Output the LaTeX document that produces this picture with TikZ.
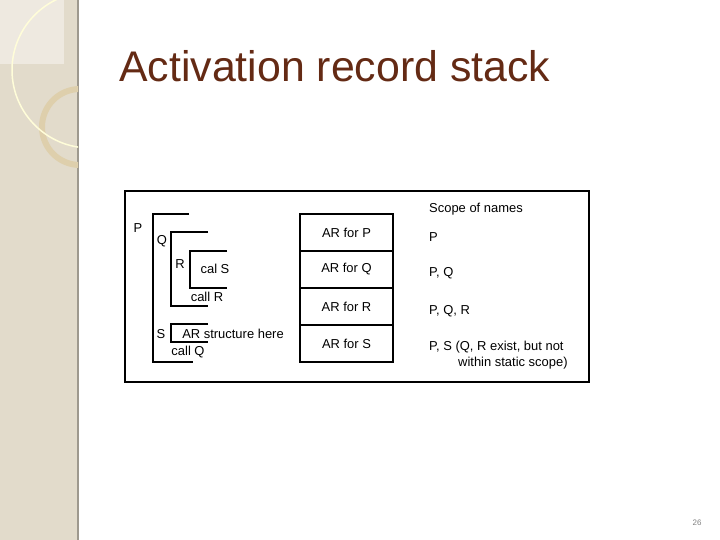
\documentclass[tikz,border=0pt]{standalone}
\usepackage{fontspec}
\setmainfont{Liberation Sans}
\definecolor{beige}{RGB}{226,219,203}
\definecolor{ring}{RGB}{222,207,172}
\definecolor{titlebrown}{RGB}{100,42,20}
\begin{document}
\begin{tikzpicture}[x=1bp,y=-1bp,
  lbl/.style={font=\fontsize{13}{15}\selectfont, inner sep=0pt},
  bracket/.style={line width=1.2pt}]
\useasboundingbox (0,0) rectangle (720,540);
% left band
\fill[beige] (0,0) rectangle (78,540);
\draw[color=beige!70!black, line width=1.5pt] (78,0) -- (78,540);
\begin{scope}
\clip (0,0) rectangle (78,540);
\fill[white!40!beige] (0,0) rectangle (64,64);
\draw[ring, line width=6pt] (80,127) circle (38);
\draw[white!85!yellow, line width=1.5pt] (90,70) circle (78);
\end{scope}
% title
\node[anchor=base west, inner sep=0pt, text=titlebrown, font=\fontsize{43}{47}\selectfont] (title) at (119,82) {Activation record stack};
% frame
\draw[line width=1.2pt] (125,191) rectangle (589,382);
% scopes
\draw[bracket] (189,214) -- (153,214) -- (153,362) -- (193,362);
\draw[bracket] (208,232) -- (171,232) -- (171,306) -- (208,306);
\draw[bracket] (227,251) -- (190,251) -- (190,288) -- (227,288);
\draw[bracket] (208,324) -- (171,324) -- (171,342) -- (208,342);
\node[lbl] (p) at (138,228) {P};
\node[lbl] (q) at (162,241) {Q};
\node[lbl] (r) at (180,264) {R};
\node[lbl] (cs) at (215,269) {cal S};
\node[lbl] (cr) at (207,297) {call R};
\node[lbl] (s) at (161,334) {S};
\node[lbl] (here) at (233,334) {AR structure here};
\node[lbl] (cq) at (188,352) {call Q};
% stack
\foreach \y/\t in {214/P,251/Q,288/R,325/S}
  \draw[line width=1.2pt] (300,\y) rectangle node[lbl] (ar\t) {AR for \t} (393,\y+37);
% scope column
\node[lbl, anchor=west] (head) at (429,209) {Scope of names};
\node[lbl, anchor=west] (sp) at (429,237) {P};
\node[lbl, anchor=west] (sq) at (429,273) {P, Q};
\node[lbl, anchor=west] (sr) at (429,311) {P, Q, R};
\node[lbl, anchor=west] (ss) at (429,347) {P, S (Q, R exist, but not};
\node[lbl, anchor=west] (ss2) at (458,363) {within static scope)};
\node[text=gray, font=\fontsize{8}{9}\selectfont, inner sep=0pt] (num) at (697,523) {26};
\end{tikzpicture}
\end{document}
